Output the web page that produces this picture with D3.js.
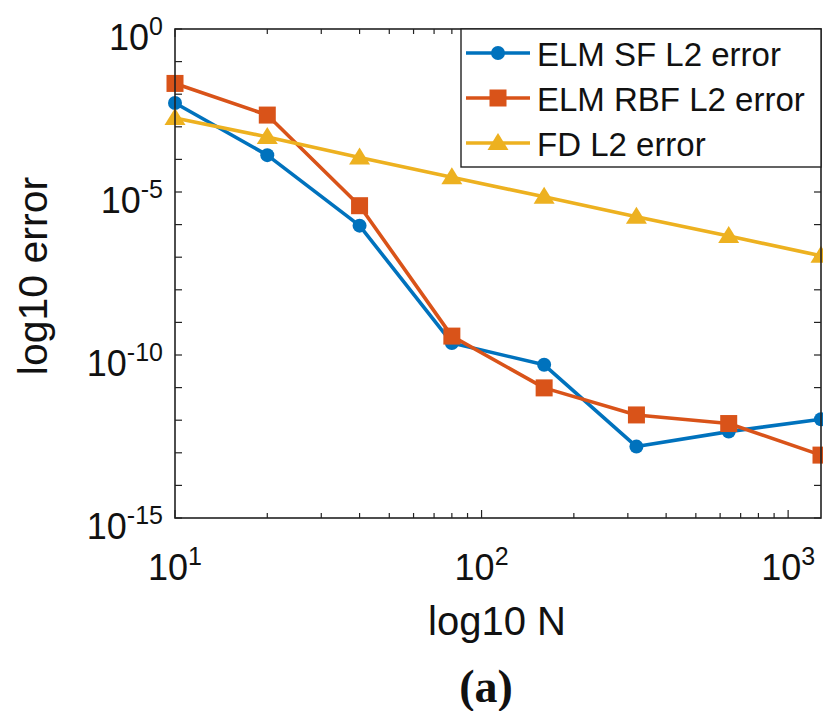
<!DOCTYPE html>
<html>
<head>
<meta charset="utf-8">
<script src="https://cdn.jsdelivr.net/npm/d3@7"></script>
<style>
  body { margin: 0; background: #fff; }
  text { font-family: "Liberation Sans", Arial, sans-serif; fill: #111; }
</style>
</head>
<body>
<div id="chart"></div>
<script>
// grid sizes N and the L2 errors
var N = [10, 20, 40, 80, 160, 320, 640, 1280];
var sfErr  = [5.37e-3, 1.35e-4, 9.3e-7, 2.34e-10, 5.0e-11, 1.55e-13, 4.47e-13, 1.07e-12];
var rbfErr = [2.14e-2, 2.29e-3, 3.8e-6, 3.8e-10, 9.8e-12, 1.45e-12, 7.9e-13, 8.5e-14];
var fdErr  = [1.86e-3, 4.9e-4, 1.15e-4, 2.82e-5, 7.1e-6, 1.74e-6, 4.47e-7, 1.10e-7];

var seriesNames = ["ELM SF L2 error", "ELM RBF L2 error", "FD L2 error"];
var xTickExps = [1, 2, 3];
var yTickExps = [0, -1, -2, -3, -4, -5, -6, -7, -8, -9, -10, -11, -12, -13, -14, -15];
var yLabelExps = [0, -5, -10, -15];

var width = 823, height = 711;
var pLeft = 175, pRight = 821, pTop = 29, pBottom = 518;

var svg = d3.select("#chart").append("svg")
    .attr("width", width)
    .attr("height", height);

var x = d3.scaleLog().domain([10, 1280]).range([pLeft, pRight]);
var y = d3.scaleLog().domain([1e-15, 1]).range([pBottom, pTop]);

var colors = ["#0072BD", "#D95319", "#EDB120"];
var series = [sfErr, rbfErr, fdErr].map(function (vals, i) {
  return { name: seriesNames[i], color: colors[i], shape: i,
           pts: vals.map(function (v, j) { return [N[j], v]; }) };
});

//ticks, inward on all four sides
var axisCol = "#222";
var ticks = svg.append("g").attr("stroke", axisCol).attr("stroke-width", 1.2);
x.ticks().forEach(function (t) {
  var lg = Math.log10(t);
  var major = Math.abs(lg - Math.round(lg)) < 1e-9;
  var len = major ? 8 : 5;
  ticks.append("line").attr("x1", x(t)).attr("x2", x(t)).attr("y1", pBottom).attr("y2", pBottom - len);
  ticks.append("line").attr("x1", x(t)).attr("x2", x(t)).attr("y1", pTop).attr("y2", pTop + len);
});
yTickExps.forEach(function (e) {
  var v = Math.pow(10, e);
  ticks.append("line").attr("x1", pLeft).attr("x2", pLeft + 7).attr("y1", y(v)).attr("y2", y(v));
  ticks.append("line").attr("x1", pRight).attr("x2", pRight - 7).attr("y1", y(v)).attr("y2", y(v));
});

//tick labels with superscript exponents
function powLabel(sel, e) {
  sel.append("tspan").text("10");
  sel.append("tspan").attr("dy", -15).attr("font-size", 25).text(e);
}
xTickExps.forEach(function (e) {
  var t = svg.append("text")
      .attr("x", x(Math.pow(10, e)))
      .attr("y", 580)
      .attr("text-anchor", "middle")
      .attr("font-size", 36);
  powLabel(t, e);
});
yLabelExps.forEach(function (e) {
  var t = svg.append("text")
      .attr("x", 163)
      .attr("y", y(Math.pow(10, e)) + 21)
      .attr("text-anchor", "end")
      .attr("font-size", 36);
  powLabel(t, e === 0 ? "0" : "-" + Math.abs(e));
});

//lines and markers
var line = d3.line().x(function (d) { return x(d[0]); }).y(function (d) { return y(d[1]); });

function marker(g, shape, color) {
  if (shape === 0) {
    g.append("circle").attr("r", 7).attr("fill", color);
  } else if (shape === 1) {
    g.append("rect").attr("x", -8.5).attr("y", -8.5).attr("width", 17).attr("height", 17).attr("fill", color);
  } else {
    g.append("path").attr("d", "M0,-10L10.5,7L-10.5,7Z").attr("fill", color);
  }
}

series.forEach(function (s) {
  svg.append("path")
      .attr("d", line(s.pts))
      .attr("fill", "none")
      .attr("stroke", s.color)
      .attr("stroke-width", 3.6)
      .attr("stroke-linejoin", "round");
  s.pts.forEach(function (p) {
    var g = svg.append("g").attr("transform", "translate(" + x(p[0]) + "," + y(p[1]) + ")");
    marker(g, s.shape, s.color);
  });
});

//axes box
svg.append("rect")
    .attr("x", pLeft).attr("y", pTop)
    .attr("width", pRight - pLeft).attr("height", pBottom - pTop)
    .attr("fill", "none").attr("stroke", axisCol).attr("stroke-width", 1.6);

//legend
var leg = svg.append("g");
leg.append("rect")
    .attr("x", 461).attr("y", pTop)
    .attr("width", pRight - 461).attr("height", 138)
    .attr("fill", "#fff").attr("stroke", axisCol).attr("stroke-width", 1.4);
series.forEach(function (s, i) {
  var ry = 53 + i * 45;
  leg.append("line")
      .attr("x1", 466).attr("x2", 530).attr("y1", ry).attr("y2", ry)
      .attr("stroke", s.color).attr("stroke-width", 3.6);
  var g = leg.append("g").attr("transform", "translate(498," + ry + ")");
  marker(g, s.shape, s.color);
  leg.append("text")
      .attr("x", 537).attr("y", ry + 13)
      .attr("font-size", 33)
      .text(s.name);
});

//axis titles
svg.append("text")
    .attr("x", 497).attr("y", 635)
    .attr("text-anchor", "middle")
    .attr("font-size", 40)
    .text("log10 N");
svg.append("text")
    .attr("transform", "translate(47,276) rotate(-90)")
    .attr("text-anchor", "middle")
    .attr("font-size", 41)
    .text("log10 error");
svg.append("text")
    .attr("x", 486).attr("y", 702)
    .attr("text-anchor", "middle")
    .attr("font-size", 46)
    .attr("font-weight", "bold")
    .style("font-family", "'Liberation Serif', 'Times New Roman', serif")
    .text("(a)");
</script>
</body>
</html>
